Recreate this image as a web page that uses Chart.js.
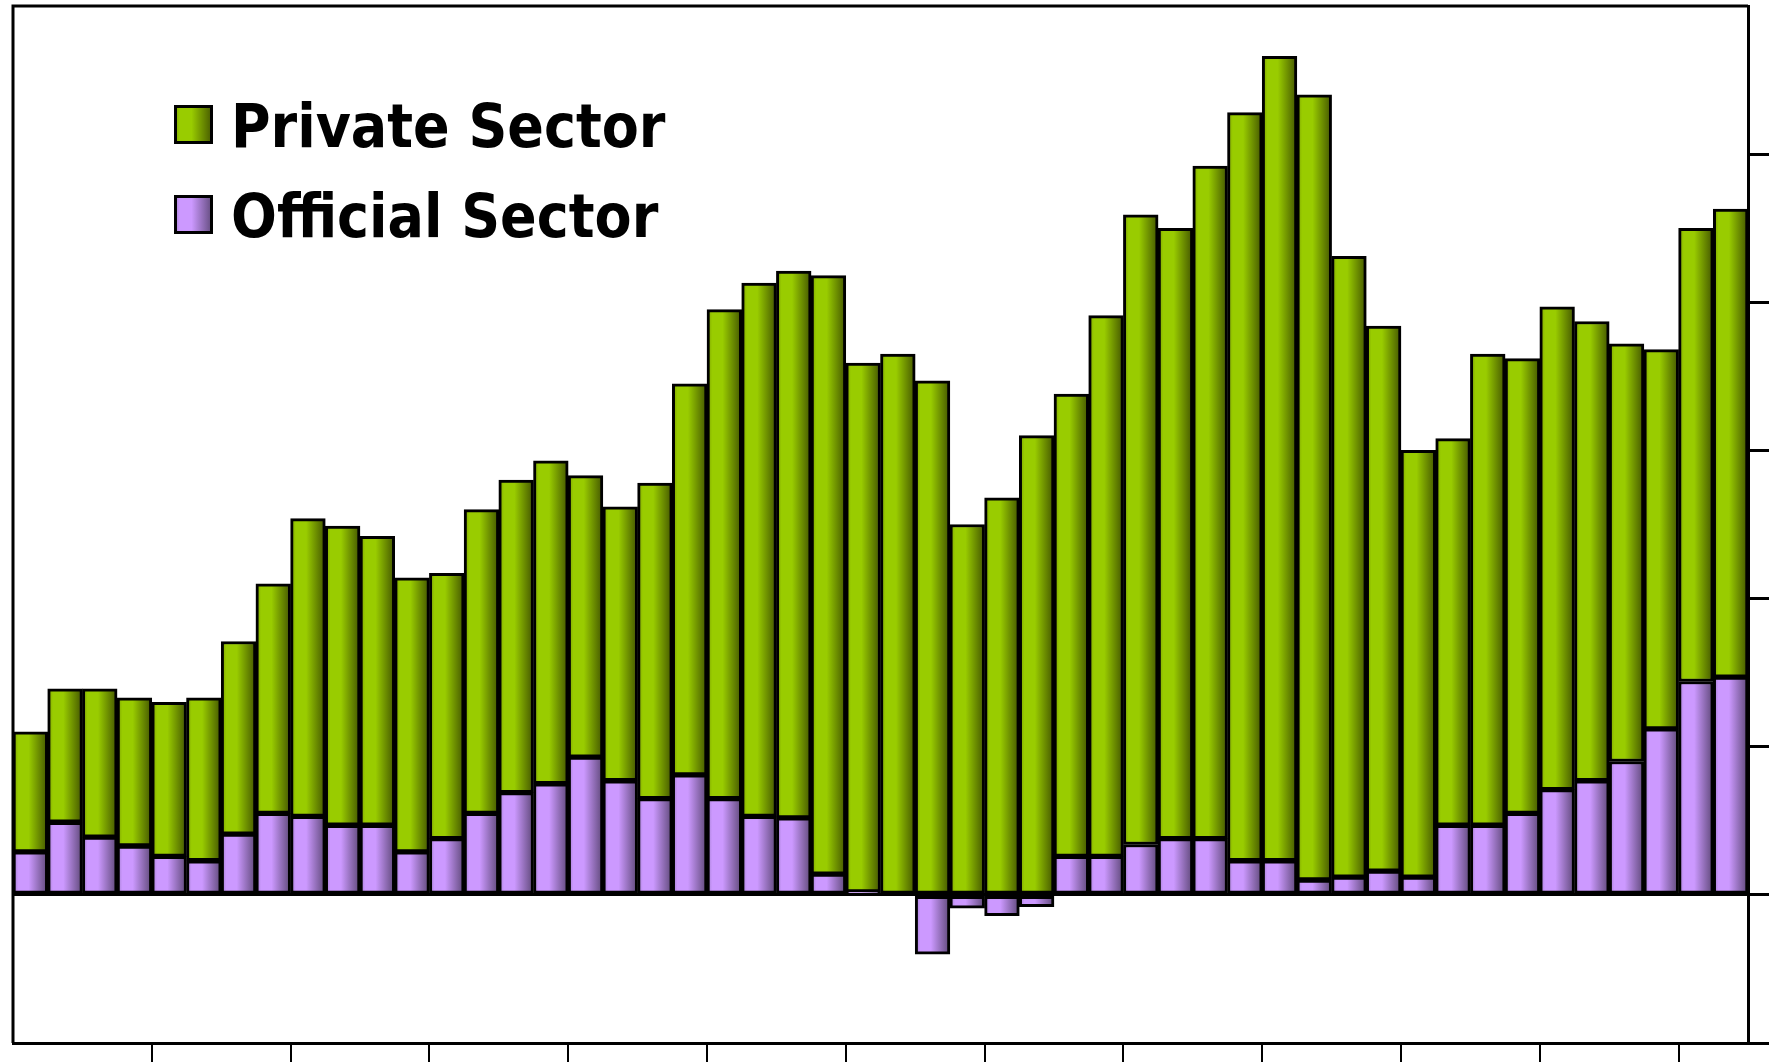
<!DOCTYPE html>
<html>
<head>
<meta charset="utf-8">
<script src="https://cdn.jsdelivr.net/npm/chart.js@4.4.1/dist/chart.umd.min.js"></script>
<style>
  html, body { margin: 0; padding: 0; background: #fff; }
  canvas { display: block; }
</style>
</head>
<body>
<canvas id="flows" width="1769" height="1062"></canvas>
<script>
// quarterly flows, split by sector (stacked bars)
const quarters = ['Q1','Q2','Q3','Q4','Q5','Q6','Q7','Q8','Q9','Q10',
    'Q11','Q12','Q13','Q14','Q15','Q16','Q17','Q18','Q19','Q20',
    'Q21','Q22','Q23','Q24','Q25','Q26','Q27','Q28','Q29','Q30',
    'Q31','Q32','Q33','Q34','Q35','Q36','Q37','Q38','Q39','Q40',
    'Q41','Q42','Q43','Q44','Q45','Q46','Q47','Q48','Q49','Q50'];

const officialSector = [29, 49, 39, 33, 26, 23, 41, 55, 53, 47,
    47, 29, 38, 55, 69, 75, 93, 77, 65, 81,
    65, 53, 52, 14, 2, 0, -40, -9, -14, -8,
    26, 26, 34, 38, 38, 23, 23, 10, 12, 16,
    12, 47, 47, 55, 71, 77, 90, 112, 144, 147];

const privateSector = [81, 90, 100, 100, 104, 110, 130, 155, 201, 202,
    195, 185, 179, 205, 211, 218, 190, 185, 213, 264,
    330, 360, 369, 404, 357, 365, 347, 250, 268, 310,
    312, 365, 425, 412, 454, 505, 543, 530, 419, 368,
    288, 261, 318, 307, 326, 310, 282, 256, 306, 316];

const yTicks = [-100, 0, 100, 200, 300, 400, 500, 600];

// cylinder-ish shading across each bar
const greenStops = [[0, '#7a9e00'], [0.15, '#99cc00'], [0.45, '#99cc00'], [1, '#435500']];
const purpleStops = [[0, '#a07ccc'], [0.15, '#cc99ff'], [0.45, '#cc99ff'], [1, '#5e4878']];

function hGradient(ctx, x0, x1, stops) {
    const g = ctx.createLinearGradient(x0, 0, x1, 0);
    stops.forEach(function(s) { g.addColorStop(s[0], s[1]); });
    return g;
}

function barFill(stops, flat) {
    return function(c) {
        const chart = c.chart;
        const xs = chart.scales.x;
        if (!chart.chartArea || !xs || c.dataIndex === undefined) return flat;
        const w = xs.width / quarters.length;
        const cx = xs.getPixelForValue(c.dataIndex);
        return hGradient(chart.ctx, cx - w / 2, cx + w / 2, stops);
    };
}

// thin frame on the left and top of the plot
const plotFrame = {
    id: 'plotFrame',
    beforeDatasetsDraw(chart) {
        const ctx = chart.ctx, a = chart.chartArea;
        ctx.save();
        ctx.strokeStyle = '#000';
        ctx.lineWidth = 3;
        ctx.beginPath();
        ctx.moveTo(a.left, a.bottom);
        ctx.lineTo(a.left, a.top);
        ctx.lineTo(a.right, a.top);
        ctx.stroke();
        ctx.restore();
    }
};

// legend sits inside the plot, top left
const insideLegend = {
    id: 'insideLegend',
    afterDraw(chart) {
        const ctx = chart.ctx, a = chart.chartArea;
        const items = [
            { text: chart.data.datasets[1].label, stops: greenStops, top: 99 },
            { text: chart.data.datasets[0].label, stops: purpleStops, top: 189 }
        ];
        ctx.save();
        ctx.font = 'bold 60px "DejaVu Sans Condensed", "DejaVu Sans"';
        ctx.textBaseline = 'alphabetic';
        items.forEach(function(it) {
            const bx = a.left + 161, by = a.top + it.top, bs = 39;
            ctx.fillStyle = hGradient(ctx, bx, bx + bs, it.stops);
            ctx.fillRect(bx, by, bs, bs);
            ctx.lineWidth = 3;
            ctx.strokeStyle = '#000';
            ctx.strokeRect(bx + 1.5, by + 1.5, bs - 3, bs - 3);
            ctx.fillStyle = '#000';
            ctx.fillText(it.text, a.left + 218, by + 42);
        });
        ctx.restore();
    }
};

const ctx = document.getElementById('flows').getContext('2d');
const flowsChart = new Chart(ctx, {
    type: 'bar',
    data: {
        labels: quarters,
        datasets: [{
            label: 'Official Sector',
            data: officialSector,
            backgroundColor: barFill(purpleStops, '#cc99ff'),
            borderColor: '#000',
            borderWidth: 3,
            borderSkipped: false
        }, {
            label: 'Private Sector',
            data: privateSector,
            backgroundColor: barFill(greenStops, '#99cc00'),
            borderColor: '#000',
            borderWidth: 3,
            borderSkipped: false
        }]
    },
    options: {
        responsive: false,
        animation: false,
        devicePixelRatio: 1,
        layout: { padding: { left: 13, top: 6, right: 0, bottom: 0 } },
        categoryPercentage: 1.0,
        barPercentage: 1.0,
        plugins: {
            legend: { display: false },
            tooltip: { enabled: false }
        },
        scales: {
            x: {
                stacked: true,
                ticks: { display: false, autoSkip: false },
                border: { color: '#000', width: 3 },
                grid: {
                    drawOnChartArea: false,
                    tickLength: 19,
                    lineWidth: 2,
                    tickColor: function(c) {
                        return (c.index > 0 && c.index < quarters.length && c.index % 4 === 0) ? '#000' : 'rgba(0,0,0,0)';
                    }
                }
            },
            y: {
                stacked: true,
                position: 'right',
                min: yTicks[0],
                max: yTicks[yTicks.length - 1],
                ticks: { display: false, stepSize: yTicks[2] - yTicks[1] },
                border: { color: '#000', width: 3 },
                grid: {
                    drawOnChartArea: true,
                    tickLength: 21,
                    lineWidth: 3,
                    tickColor: function(c) {
                        return (c.tick && c.tick.value === yTicks[yTicks.length - 1]) ? 'rgba(0,0,0,0)' : '#000';
                    },
                    color: function(c) {
                        return (c.tick && c.tick.value === 0) ? '#000' : 'rgba(0,0,0,0)';
                    }
                }
            }
        }
    },
    plugins: [plotFrame, insideLegend]
});
</script>
</body>
</html>
